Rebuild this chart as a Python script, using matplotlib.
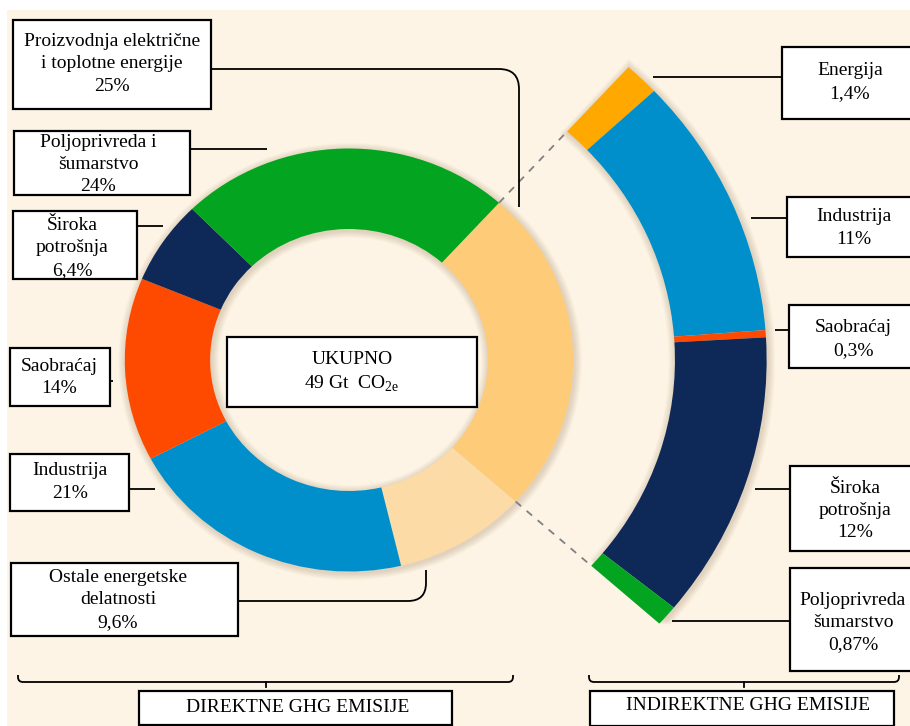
import numpy as np
import matplotlib
matplotlib.use("Agg")
from matplotlib import pyplot as plt
from matplotlib.patches import Rectangle
from matplotlib.path import Path
from matplotlib.patches import PathPatch

plt.rcParams["font.family"] = ["Liberation Serif", "DejaVu Serif"]
plt.rcParams["mathtext.fontset"] = "custom"
plt.rcParams["mathtext.rm"] = "Liberation Serif"

# %% data
direct_labels = ["Proizvodnja električne\ni toplotne energije", "Ostale energetske\ndelatnosti",
                 "Industrija", "Saobraćaj", "Široka\npotrošnja", "Poljoprivreda i\nšumarstvo"]
direct_values = [25, 9.6, 21, 14, 6.4, 24]
direct_colors = ["#FECB79", "#FCDBA6", "#008FCB", "#FE4A00", "#0E2957", "#03A41F"]

indirect_labels = ["Energija", "Industrija", "Saobraćaj", "Široka\npotrošnja", "Poljoprivreda\nšumarstvo"]
indirect_values = [1.4, 11, 0.3, 12, 0.87]
indirect_colors = ["#FEA800", "#008FCB", "#FE4A00", "#0E2957", "#03A41F"]

total_gt = 49
group_labels = ["DIREKTNE GHG EMISIJE", "INDIREKTNE GHG EMISIJE"]


def pct(v):
    return f"{v:g}".replace(".", ",") + "%"


# %% layout (pixels)
W, H = 910, 726
cx, cy, k = 349, 360, 1.06          # donut centre, horizontal stretch
r_out, r_in = 211.5, 131
R_out, R_in = 394, 307.5
start = 48
cream = "#FDF4E5"
shadow = "#7a5a30"

fig = plt.figure(figsize=(W / 100, H / 100), dpi=100)
fig.patch.set_facecolor("white")

ax = fig.add_axes([0, 0, 1, 1])
ax.set_xlim(0, W)
ax.set_ylim(H, 0)
ax.axis("off")
ax.add_patch(Rectangle((7, 10), W, H, fc=cream, ec="none"))

axp = fig.add_axes([0, 0, 1, 1])
axp.patch.set_alpha(0)


def ring_shadow(radius, width, frac, sa, steps=7):
    for i in range(1, steps + 1):
        ext = np.degrees(i / radius) if frac < 1 else 0
        axp.pie([frac], normalize=False, radius=radius + i, startangle=sa + ext,
                counterclock=False, colors=[shadow], center=(1.0, -1.5),
                wedgeprops=dict(width=width + 2 * i, alpha=0.03, lw=0))


direct_share = direct_values[0] / 100
ind = np.array(indirect_values)
ind_fracs = ind / ind.sum() * direct_share

ring_shadow(r_out, r_out - r_in, 1, start)
ring_shadow(R_out, R_out - R_in, direct_share, start)

axp.pie(direct_values, colors=direct_colors, startangle=start, counterclock=False,
        radius=r_out, wedgeprops=dict(width=r_out - r_in, lw=0))
axp.pie(ind_fracs, normalize=False, colors=indirect_colors, startangle=start,
        counterclock=False, radius=R_out, wedgeprops=dict(width=R_out - R_in, lw=0))

# dashed connectors between donut slice and arc
for ang in [start, start - 360 * direct_share]:
    a = np.radians(ang)
    axp.plot([r_out * np.cos(a), R_in * np.cos(a)], [r_out * np.sin(a), R_in * np.sin(a)],
             ls=(0, (4, 4)), color="#808080", lw=1.3)

axp.set_aspect("auto")
axp.set_xlim(-cx / k, (W - cx) / k)
axp.set_ylim(cy - H, cy)
axp.axis("off")

axt = fig.add_axes([0, 0, 1, 1])
axt.set_xlim(0, W)
axt.set_ylim(H, 0)
axt.axis("off")
axt.patch.set_alpha(0)


def box(x0, y0, x1, y1, text, tx, ty, fs=14):
    axt.add_patch(Rectangle((x0, y0), x1 - x0, y1 - y0, fc="white", ec="black", lw=1.6))
    axt.text(tx, ty, text, ha="center", va="center", fontsize=fs, linespacing=1.42,
             multialignment="center")


def line(pts):
    verts = []
    codes = []
    for i, p in enumerate(pts):
        verts.append(p)
        codes.append(Path.MOVETO if i == 0 else Path.LINETO)
    axt.add_patch(PathPatch(Path(verts, codes), fc="none", ec="black", lw=1.3))


def elbow(x0, y0, xc, y1, r=18):
    # horizontal from (x0,y0) to xc, round corner, vertical to y1
    s = np.sign(y1 - y0)
    verts = [(x0, y0), (xc - r, y0), (xc, y0), (xc, y0 + s * r), (xc, y1)]
    codes = [Path.MOVETO, Path.LINETO, Path.CURVE3, Path.CURVE3, Path.LINETO]
    axt.add_patch(PathPatch(Path(verts, codes), fc="none", ec="black", lw=1.3))


def bracket(x0, x1, y, h=7, r=5):
    xm = (x0 + x1) / 2
    verts = [(x0, y - h), (x0, y - r), (x0, y), (x0 + r, y), (x1 - r, y),
             (x1, y), (x1, y - r), (x1, y - h)]
    codes = [Path.MOVETO, Path.LINETO, Path.CURVE3, Path.CURVE3, Path.LINETO,
             Path.CURVE3, Path.CURVE3, Path.LINETO]
    axt.add_patch(PathPatch(Path(verts, codes), fc="none", ec="black", lw=1.3))
    axt.plot([xm, xm], [y, y + 5], color="black", lw=1.3)


# left labels (direct)
dl = {lab: f"{lab}\n{pct(v)}" for lab, v in zip(direct_labels, direct_values)}
box(13, 20, 211, 109, dl[direct_labels[0]], 112, 64)
elbow(211, 69, 519, 207, r=20)
box(14, 131, 190, 195, dl[direct_labels[5]], 98, 164.5)
line([(190, 149), (267, 149)])
box(13, 211, 137, 279, dl[direct_labels[4]], 72, 248)
line([(137, 226), (163, 226)])
box(10, 348, 110, 406, dl[direct_labels[3]], 59, 377.5)
line([(110, 381), (113, 381)])
box(10, 454, 129, 511, dl[direct_labels[2]], 70, 482)
line([(129, 489), (155, 489)])
box(11, 563, 238, 636, dl[direct_labels[1]], 118, 600)
elbow(238, 601, 426, 570, r=18)

box(227, 337, 477, 407, "UKUPNO\n" + f"{total_gt} Gt  CO" + r"$_{\mathrm{2e}}$", 352, 372.5)

# right labels (indirect)
il = [f"{lab}\n{pct(v)}" for lab, v in zip(indirect_labels, indirect_values)]
box(782, 47, 915, 119, il[0], 850, 82)
line([(653, 77), (782, 77)])
box(787, 197, 915, 257, il[1], 854, 228)
line([(751, 218), (787, 218)])
box(789, 305, 915, 368, il[2], 853, 339)
line([(775, 330), (789, 330)])
box(790, 466, 915, 551, il[3], 855, 510.5)
line([(755, 489), (790, 489)])
box(790, 568, 915, 671, il[4], 853, 622.5)
line([(672, 621), (790, 621)])

# group brackets
bracket(18, 513, 682)
bracket(589, 899, 682)
box(139, 691, 452, 725, group_labels[0], 298, 707)
box(590, 691, 894, 726, group_labels[1], 748, 706)

fig.savefig("out.png", dpi=100, facecolor=fig.get_facecolor())
